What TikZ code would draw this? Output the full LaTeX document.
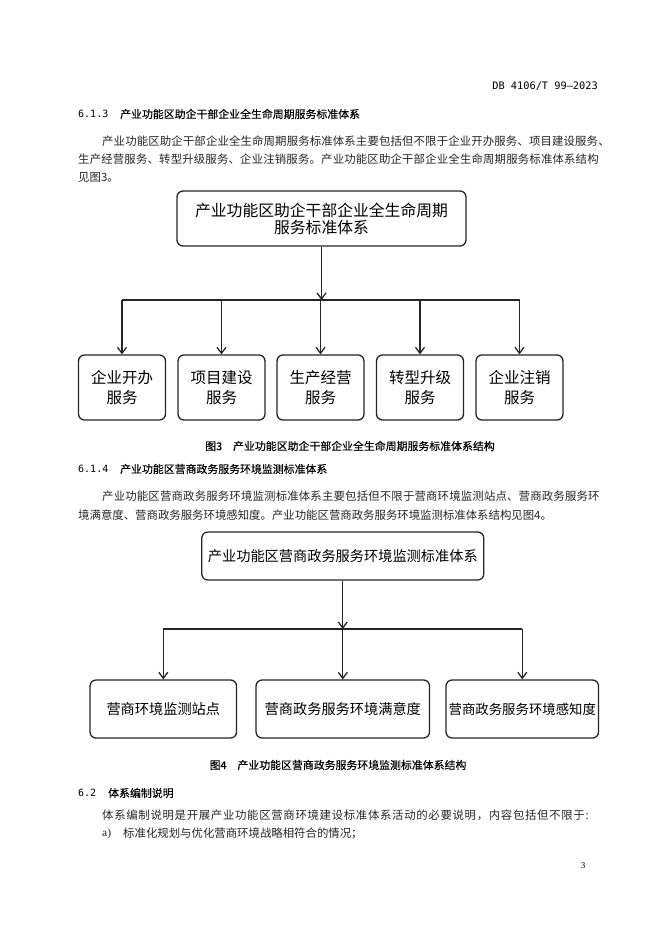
\documentclass[tikz,border=0pt]{standalone}
\usepackage{fontspec}
\setmainfont{Liberation Serif}
\newfontfamily\cjk{Noto Sans CJK SC}
\newfontfamily\cjkh{Noto Sans CJK SC}[FakeBold=0.3]
\newfontfamily\monof{DejaVu Sans Mono}
\usetikzlibrary{arrows.meta}
\begin{document}
\begin{tikzpicture}[x=1pt,y=-1pt,
  box/.style={draw=black!85, line width=1.3pt, rounded corners=6pt, inner sep=0pt, align=center,
    font=\cjk\fontsize{15.5}{20}\selectfont},
  boxb/.style={box, font=\cjk\fontsize{14.2}{18}\selectfont},
  arr/.style={draw=black!85, line width=1.3pt, -{Straight Barb[length=6pt,width=9pt]}},
  bus/.style={draw=black!85, line width=1.3pt},
  body/.style={anchor=west, inner sep=0pt, text=black!85, font=\cjk\fontsize{11.4}{14}\selectfont},
  head/.style={anchor=west, inner sep=0pt, font=\cjkh\fontsize{10.9}{13}\selectfont},
  secnum/.style={anchor=west, inner sep=0pt, font=\monof\fontsize{10}{12}\selectfont},
  caption/.style={inner sep=0pt, font=\cjkh\fontsize{10.9}{13}\selectfont}]
\useasboundingbox[fill=white] (0,0) rectangle (662,936);

% header
\node[anchor=east, inner sep=0pt, font=\monof\fontsize{10.3}{12}\selectfont] (hdr) at (598,86) {DB 4106/T 99—2023};

% 6.1.3
\node[secnum] (n613) at (78,114) {6.1.3};
\node[head] (h613) at (120,114) {产业功能区助企干部企业全生命周期服务标准体系};
\node[body] (p1a) at (102,141.5) {\addfontfeatures{LetterSpace=1.2}产业功能区助企干部企业全生命周期服务标准体系主要包括但不限于企业开办服务、项目建设服务、};
\node[body] (p1b) at (78,159.5) {\addfontfeatures{LetterSpace=1.5}生产经营服务、转型升级服务、企业注销服务。产业功能区助企干部企业全生命周期服务标准体系结构};
\node[body] (p1c) at (78,177.5) {见图3。};

% figure 3
\node[box, minimum width=289pt, minimum height=55pt, font=\cjk\fontsize{15.8}{17}\selectfont] (t1) at (321.5,218.5)
  {产业功能区助企干部企业全生命周期\\服务标准体系};
\node[box, minimum width=87pt, minimum height=65pt] (a1) at (122,387.5) {企业开办\\服务};
\node[box, minimum width=87pt, minimum height=65pt] (a2) at (221.5,387.5) {项目建设\\服务};
\node[box, minimum width=87pt, minimum height=65pt] (a3) at (320.5,387.5) {生产经营\\服务};
\node[box, minimum width=87pt, minimum height=65pt] (a4) at (420,387.5) {转型升级\\服务};
\node[box, minimum width=87pt, minimum height=65pt] (a5) at (519.5,387.5) {企业注销\\服务};
\coordinate (bus1) at (321.5,300);
\draw[arr] (t1.south) -- (bus1);
\draw[bus] (a1.north |- bus1) -- (a5.north |- bus1);
\foreach \n in {a1,a2,a3,a4,a5} \draw[arr] (\n.north |- bus1) -- (\n.north);

\node[caption] (cap3) at (350,446) {图3\quad 产业功能区助企干部企业全生命周期服务标准体系结构};

% 6.1.4
\node[secnum] (n614) at (78,469) {6.1.4};
\node[head] (h614) at (120,469) {产业功能区营商政务服务环境监测标准体系};
\node[body] (p2a) at (102,496.5) {\addfontfeatures{LetterSpace=1.5}产业功能区营商政务服务环境监测标准体系主要包括但不限于营商环境监测站点、营商政务服务环};
\node[body] (p2b) at (78,515) {境满意度、营商政务服务环境感知度。产业功能区营商政务服务环境监测标准体系结构见图4。};

% figure 4
\node[boxb, minimum width=282pt, minimum height=48pt] (t2) at (342.8,556)
  {产业功能区营商政务服务环境监测标准体系};
\node[boxb, minimum width=146.5pt, minimum height=58pt] (b1) at (163.3,709) {营商环境监测站点};
\node[boxb, minimum width=173.5pt, minimum height=58pt] (b2) at (342.8,709) {营商政务服务环境满意度};
\node[boxb, minimum width=152.5pt, minimum height=58pt, font=\cjk\fontsize{13.4}{18}\selectfont] (b3) at (522.3,709) {营商政务服务环境感知度};
\coordinate (bus2) at (342.8,629);
\draw[arr] (t2.south) -- (bus2);
\draw[bus] (b1.north |- bus2) -- (b3.north |- bus2);
\foreach \n in {b1,b2,b3} \draw[arr] (\n.north |- bus2) -- (\n.north);

\node[caption] (cap4) at (338,765) {图4\quad 产业功能区营商政务服务环境监测标准体系结构};

% 6.2
\node[secnum] (n62) at (78,793) {6.2};
\node[head] (h62) at (108,793) {体系编制说明};
\node[body] (p3a) at (102,815) {\addfontfeatures{LetterSpace=6}体系编制说明是开展产业功能区营商环境建设标准体系活动的必要说明，内容包括但不限于:};
\node[body, font=\fontsize{11.4}{14}\selectfont] (p3b) at (102,834) {a)};
\node[body] (p3c) at (123,834) {标准化规划与优化营商环境战略相符合的情况；};

% page number
\node[inner sep=0pt, font=\fontsize{9}{11}\selectfont] (pg) at (583,866) {3};
\end{tikzpicture}
\end{document}
